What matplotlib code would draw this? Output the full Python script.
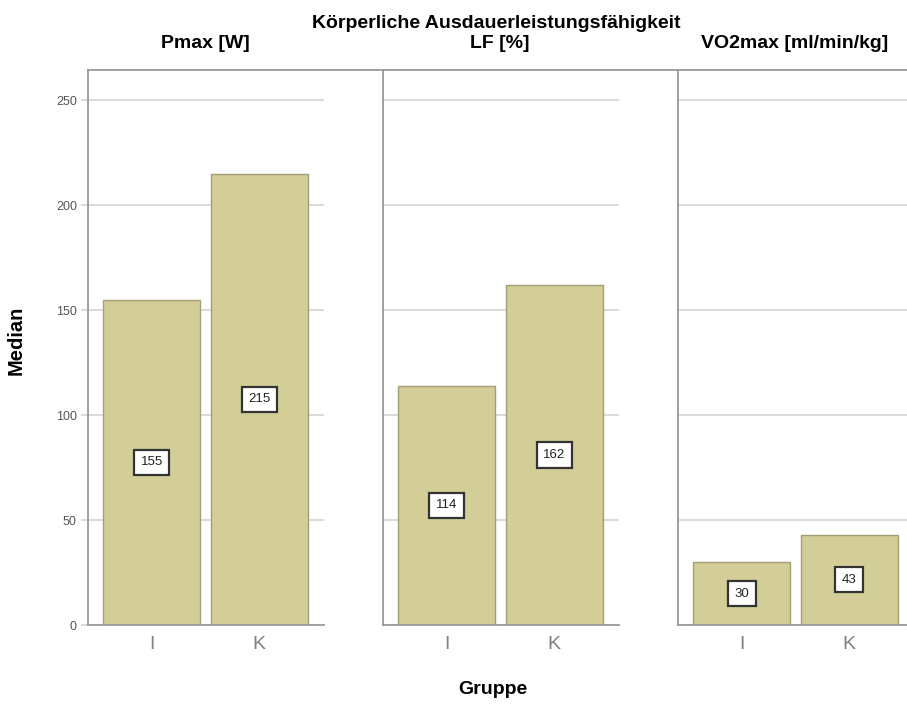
import matplotlib
matplotlib.use("Agg")
import matplotlib.pyplot as plt
from matplotlib.lines import Line2D

plt.rcParams['font.family'] = ['Liberation Sans', 'DejaVu Sans']

# data
groups = ['I', 'K']
panel_titles = ['Pmax [W]', 'LF [%]', 'VO2max [ml/min/kg]']
pmax = [155, 215]
lf = [114, 162]
vo2max = [30, 43]
panel_values = [pmax, lf, vo2max]
yticks = [0, 50, 100, 150, 200, 250]

bar_color = '#D3CD97'
bar_edge = '#A39E76'
axis_color = '#9A9A9A'
grid_color = '#D4D4D4'

W, H = 907, 706
fig = plt.figure(figsize=(W / 100, H / 100), dpi=100)

left_px = [88, 383, 678]
panel_w = 236
top_px, bottom_px = 70, 625

for i, (title, vals) in enumerate(zip(panel_titles, panel_values)):
    ax = fig.add_axes([left_px[i] / W, (H - bottom_px) / H,
                       panel_w / W, (bottom_px - top_px) / H])
    x = list(range(len(groups)))
    ax.bar(x, vals, width=0.9, color=bar_color, edgecolor=bar_edge,
           linewidth=1.0, zorder=2)
    for xi, v in zip(x, vals):
        ax.text(xi, v / 2, str(v), ha='center', va='center', fontsize=9.5,
                color='#222222', zorder=3,
                bbox=dict(boxstyle='square,pad=0.5', facecolor='white',
                          edgecolor='#333333', linewidth=1.6))
    ax.set_xlim(-0.59, 1.6)
    ax.set_ylim(0, 264.3)
    ax.set_yticks(yticks)
    ax.yaxis.grid(True, color=grid_color, linewidth=1.2, zorder=0)
    ax.set_axisbelow(True)
    ax.set_xticks(x)
    ax.set_xticklabels(groups, fontsize=14, color='#808080')
    ax.tick_params(axis='x', length=0, pad=8)
    ax.tick_params(axis='y', length=5, color=grid_color, width=1.2,
                   labelsize=9, labelcolor='#555555', pad=3)
    if i > 0:
        ax.tick_params(axis='y', labelleft=False, length=0)
    for s in ['top', 'right']:
        ax.spines[s].set_visible(False)
    for s in ['left', 'bottom']:
        ax.spines[s].set_color(axis_color)
        ax.spines[s].set_linewidth(1.3)
    fig.text((left_px[i] + 117) / W, 1 - 48 / H, title, ha='center',
             va='baseline', fontsize=14, fontweight='bold')

# continuous top frame line across all panels
fig.add_artist(Line2D([88 / W, 1.0], [(H - top_px) / H, (H - top_px) / H],
                      color=axis_color, linewidth=1.3))

fig.text(496 / W, 1 - 28 / H, 'Körperliche Ausdauerleistungsfähigkeit',
         ha='center', va='baseline', fontsize=14, fontweight='bold')
fig.text(493 / W, 1 - 690 / H, 'Gruppe', ha='center', va='center',
         fontsize=14, fontweight='bold')
fig.text(16 / W, 1 - 340 / H, 'Median', ha='center', va='center',
         rotation=90, fontsize=14.5, fontweight='bold')

fig.savefig('out.png', dpi=100)
